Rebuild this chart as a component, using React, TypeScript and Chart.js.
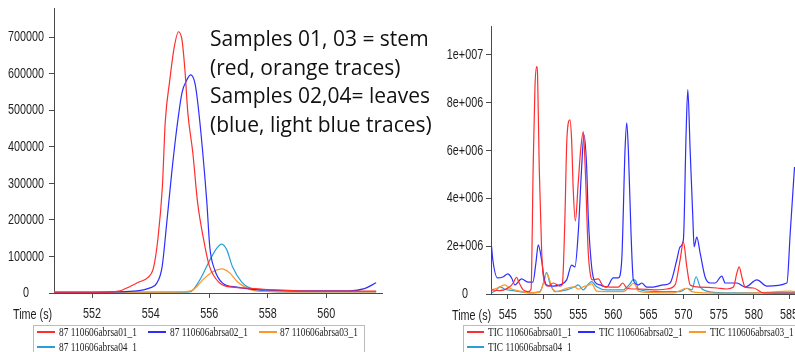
import React, { useEffect, useRef } from "react";
import { Chart, registerables } from "chart.js";

Chart.register(...registerables);

// ---------- data ----------
const seriesColors = ["rgb(255,45,45)", "rgb(45,45,255)", "rgb(255,150,40)", "rgb(40,160,215)"];
const leftSeriesNames = ["87 110606abrsa01_1", "87 110606abrsa02_1", "87 110606abrsa03_1", "87 110606abrsa04_1"];
const rightSeriesNames = ["TIC 110606abrsa01_1", "TIC 110606abrsa02_1", "TIC 110606abrsa03_1", "TIC 110606abrsa04_1"];
const annotationLines = ["Samples 01, 03 = stem", "(red, orange traces)", "Samples 02,04= leaves", "(blue, light blue traces)"];
const axisTitle = "Time (s)";

// left panel (time s, intensity)
const leftT01 = [550.7, 551.5, 552.5, 552.9, 553.3, 553.6, 553.9, 554.1, 554.25, 554.4, 554.5, 554.65, 554.8, 554.95, 555.07, 555.17, 555.27, 555.44, 555.6, 555.8, 556.0, 556.35, 556.8, 557.4, 558.0, 559.0, 560.0, 561.0, 561.7];
const leftV01 = [2000, 2000, 2000, 5000, 18000, 30000, 42000, 70000, 150000, 290000, 470000, 580000, 670000, 715000, 693000, 611000, 493000, 384000, 250000, 150000, 75000, 28000, 16000, 13000, 9000, 6000, 5000, 5000, 5000];
const leftT02 = [550.7, 552.0, 553.4, 553.98, 554.21, 554.39, 554.56, 554.73, 554.9, 555.07, 555.24, 555.37, 555.51, 555.61, 555.78, 555.92, 556.02, 556.19, 556.46, 556.94, 557.5, 558.0, 559.0, 560.0, 560.8, 561.3, 561.7];
const leftV02 = [2000, 2000, 5000, 14000, 27000, 71000, 200000, 337000, 455000, 548000, 584000, 597000, 575000, 520000, 384000, 247000, 126000, 63000, 27000, 16000, 10000, 8000, 6000, 6000, 6000, 12000, 28000];
const leftT03 = [550.7, 552.0, 554.0, 555.0, 555.44, 555.78, 556.12, 556.43, 556.7, 556.97, 557.28, 557.62, 558.0, 559.0, 560.0, 561.0, 561.7];
const leftV03 = [2000, 2000, 2000, 3000, 8000, 36000, 58000, 66000, 55000, 30000, 14000, 5000, 4000, 3000, 3000, 3000, 3000];
const leftT04 = [550.7, 552.0, 554.0, 555.0, 555.34, 555.68, 556.02, 556.26, 556.43, 556.6, 556.8, 557.11, 557.38, 557.72, 558.2, 559.0, 560.0, 561.0, 561.7];
const leftV04 = [2500, 2500, 2500, 2500, 3000, 36000, 90000, 123000, 134000, 118000, 71000, 30000, 14000, 8000, 4000, 3000, 3000, 3000, 3000];

const leftXTicks = [552, 554, 556, 558, 560];
const leftXLabels = ["552", "554", "556", "558", "560"];
const leftYTicks = [0, 100000, 200000, 300000, 400000, 500000, 600000, 700000];
const leftYLabels = ["0", "100000", "200000", "300000", "400000", "500000", "600000", "700000"];

// right panel (time s, intensity in millions)
const rightT01 = [542.68, 543.86, 545.28, 545.75, 546.24, 546.61, 547.18, 547.89, 548.3, 548.6, 548.85, 549.09, 549.23, 549.46, 549.8, 550.13, 550.74, 551.45, 552.41, 552.75, 553.1, 553.4, 553.83, 554.07, 554.3, 554.6, 555.01, 555.35, 555.73, 556.0, 556.44, 556.7, 557.0, 557.86, 558.58, 560.0, 560.71, 561.34, 561.91, 562.85, 563.8, 565.7, 567.61, 568.79, 569.5, 569.97, 570.46, 570.93, 572.35, 574.73, 576.15, 577.09, 577.58, 577.91, 578.29, 578.76, 579.94, 581.37, 585.88];
const rightV01 = [0.17, 0.14, 0.3, 0.46, 0.7, 0.46, 0.17, 0.1, 0.2, 5.3, 8.6, 9.5, 9.1, 5.3, 1.84, 0.59, 0.33, 0.46, 0.33, 0.4, 3.0, 6.5, 7.28, 6.44, 4.35, 3.05, 4.64, 6.0, 6.79, 5.3, 1.7, 0.88, 0.59, 0.63, 0.33, 0.29, 0.29, 0.46, 0.25, 0.21, 0.21, 0.17, 0.21, 0.38, 1.42, 2.18, 1.13, 0.38, 0.29, 0.25, 0.21, 0.29, 0.88, 1.13, 0.71, 0.29, 0.25, 0.05, 0.04];
const rightT02 = [542.68, 542.86, 543.53, 544.29, 545.0, 545.53, 546.0, 546.95, 547.85, 548.56, 548.99, 549.32, 549.8, 550.13, 550.51, 551.45, 552.41, 553.36, 554.07, 554.54, 555.01, 555.5, 555.83, 556.21, 556.44, 556.92, 557.39, 558.1, 559.06, 560.0, 560.71, 561.2, 561.67, 561.91, 562.14, 562.52, 562.85, 563.56, 564.05, 564.76, 565.7, 567.12, 568.08, 569.03, 569.5, 569.97, 570.36, 570.6, 570.93, 571.31, 571.5, 571.88, 572.35, 573.06, 573.77, 574.49, 575.44, 575.91, 576.87, 577.58, 578.76, 580.43, 581.85, 584.7, 585.17, 585.78];
const rightV02 = [1.98, 1.42, 0.67, 0.71, 0.84, 0.67, 0.38, 0.63, 0.5, 0.5, 1.3, 2.05, 1.42, 0.71, 0.38, 0.33, 0.38, 0.59, 1.21, 1.13, 2.55, 5.31, 6.65, 5.31, 3.22, 1.13, 0.5, 0.38, 0.29, 0.67, 0.67, 1.42, 6.03, 7.15, 6.03, 2.55, 0.59, 0.38, 0.46, 0.29, 0.29, 0.38, 0.46, 1.42, 1.97, 2.26, 6.74, 8.54, 6.03, 3.22, 1.97, 2.38, 1.72, 0.71, 0.46, 0.46, 0.75, 0.46, 0.46, 0.46, 0.29, 0.59, 0.33, 0.46, 2.55, 5.31];
const rightT03 = [542.68, 543.39, 543.86, 544.57, 545.28, 546.24, 548.13, 549.56, 550.1, 550.51, 550.98, 551.22, 551.94, 553.36, 554.5, 555.01, 555.7, 556.3, 556.92, 557.63, 559.53, 561.42, 562.3, 562.85, 563.1, 563.56, 564.76, 568.55, 570.46, 571.17, 572.82, 575.67, 580.43, 585.17, 585.88];
const rightV03 = [0.17, 0.24, 0.3, 0.38, 0.24, 0.15, 0.05, 0.08, 0.5, 0.87, 0.55, 0.3, 0.1, 0.24, 0.3, 0.2, 0.3, 0.35, 0.42, 0.12, 0.1, 0.1, 0.3, 0.45, 0.4, 0.12, 0.07, 0.05, 0.24, 0.1, 0.05, 0.03, 0.05, 0.12, 0.1];
const rightT04 = [542.68, 543.3, 543.86, 544.57, 545.5, 546.71, 548.13, 549.56, 550.1, 550.51, 550.98, 551.7, 553.36, 554.5, 555.01, 555.72, 556.4, 556.92, 557.63, 559.06, 561.42, 562.3, 562.85, 563.2, 563.56, 566.18, 569.5, 570.46, 571.17, 571.78, 572.35, 573.3, 575.67, 585.17, 585.88];
const rightV04 = [0.05, 0.15, 0.3, 0.2, 0.15, 0.1, 0.05, 0.1, 0.5, 0.9, 0.45, 0.1, 0.17, 0.3, 0.38, 0.17, 0.4, 0.52, 0.3, 0.17, 0.17, 0.4, 0.6, 0.55, 0.2, 0.1, 0.1, 0.24, 0.17, 0.72, 0.3, 0.12, 0.05, 0.05, 0.05];

const rightXTicks = [545, 550, 555, 560, 565, 570, 575, 580, 585];
const rightXLabels = ["545", "550", "555", "560", "565", "570", "575", "580", "585"];
const rightYTicks = [0, 2e6, 4e6, 6e6, 8e6, 1e7];
const rightYLabels = ["0", "2e+006", "4e+006", "6e+006", "8e+006", "1e+007"];

// ---------- helpers ----------
const TICK_FONT = "'Liberation Sans', Arial, sans-serif";
const TICK_SIZE = 15;
const NARROW = 0.72;
const LEGEND_FONT = "'Liberation Serif', 'Times New Roman', serif";

const pts = (t: number[], v: number[], k = 1) => t.map((x, i) => ({ x, y: v[i] * k }));

function makeDatasets(groups: { x: number; y: number }[][]) {
  return groups.map((data, i) => ({
    data,
    borderColor: seriesColors[i],
    borderWidth: 1.2,
    pointRadius: 0,
    fill: false,
    cubicInterpolationMode: "monotone" as const,
  }));
}

// draws condensed tick labels at the positions of the library's own scale ticks
const narrowTickLabels = {
  id: "narrowTickLabels",
  afterDraw(chart: any, _args: any, opts: any) {
    const ctx = chart.ctx as CanvasRenderingContext2D;
    const xs = chart.scales.x;
    const ys = chart.scales.y;
    ctx.save();
    ctx.fillStyle = "#1e1e1e";
    ctx.font = `${TICK_SIZE}px ${TICK_FONT}`;
    ctx.textAlign = "center";
    ctx.textBaseline = "middle";
    const draw = (s: string, x: number, y: number) => {
      ctx.save();
      ctx.translate(x, y);
      ctx.scale(NARROW, 1);
      ctx.fillText(s, 0, 0);
      ctx.restore();
    };
    ys.ticks.forEach((t: any, i: number) => draw(opts.yLabels[i], opts.yLabelX, ys.getPixelForValue(t.value)));
    xs.ticks.forEach((t: any, i: number) => draw(opts.xLabels[i], xs.getPixelForValue(t.value), opts.xLabelY));
    ctx.restore();
  },
};

function buildConfig(p: {
  datasets: any[];
  xMin: number; xMax: number; xTicks: number[]; xLabels: string[];
  yMax: number; yTicks: number[]; yLabels: string[];
  yWidth: number; xHeight: number; padTop: number; padRight: number;
  yLabelX: number; xLabelY: number;
}) {
  const gridOpts = { display: true, drawOnChartArea: false, drawTicks: true, tickLength: 5, color: "#4a4a4a", tickColor: "#4a4a4a" };
  return {
    type: "line" as const,
    data: { datasets: p.datasets },
    plugins: [narrowTickLabels],
    options: {
      animation: false,
      responsive: false,
      devicePixelRatio: 1,
      events: [],
      layout: { padding: { top: p.padTop, right: p.padRight, left: 0, bottom: 0 } },
      plugins: {
        legend: { display: false },
        tooltip: { enabled: false },
        narrowTickLabels: { xLabels: p.xLabels, yLabels: p.yLabels, yLabelX: p.yLabelX, xLabelY: p.xLabelY },
      },
      scales: {
        x: {
          type: "linear",
          min: p.xMin,
          max: p.xMax,
          afterBuildTicks: (a: any) => { a.ticks = p.xTicks.map((value) => ({ value })); },
          afterFit: (a: any) => { a.height = p.xHeight; a.paddingLeft = 0; a.paddingRight = 0; },
          grid: gridOpts,
          border: { display: true, color: "#4a4a4a", width: 1 },
          ticks: { display: false, autoSkip: false },
        },
        y: {
          type: "linear",
          min: 0,
          max: p.yMax,
          afterBuildTicks: (a: any) => { a.ticks = p.yTicks.map((value) => ({ value })); },
          afterFit: (a: any) => { a.width = p.yWidth; a.paddingTop = 0; a.paddingBottom = 0; },
          grid: gridOpts,
          border: { display: true, color: "#4a4a4a", width: 1 },
          ticks: { display: false, autoSkip: false },
        },
      },
    },
  };
}

function ChartCanvas({ config, left, top, width, height }: { config: any; left: number; top: number; width: number; height: number }) {
  const ref = useRef<HTMLCanvasElement | null>(null);
  useEffect(() => {
    if (!ref.current) return;
    const chart = new Chart(ref.current, config);
    return () => chart.destroy();
  }, []);
  return (
    <canvas
      ref={ref}
      width={width}
      height={height}
      style={{ position: "absolute", left, top, width, height }}
    />
  );
}

function LegendItem({ x, y, lineX, lineW, color, label }: { x: number; y: number; lineX: number; lineW: number; color: string; label: string }) {
  return (
    <>
      <div style={{ position: "absolute", left: lineX, top: y - 1, width: lineW, height: 2, background: color }} />
      <div
        style={{
          position: "absolute",
          left: x,
          top: y - 8,
          height: 16,
          lineHeight: "16px",
          fontFamily: LEGEND_FONT,
          fontSize: 13,
          color: "#222",
          whiteSpace: "nowrap",
          transform: "scaleX(0.72)",
          transformOrigin: "left center",
        }}
      >
        {label}
      </div>
    </>
  );
}

export default function App() {
  const leftConfig = buildConfig({
    datasets: makeDatasets([pts(leftT01, leftV01), pts(leftT02, leftV02), pts(leftT03, leftV03), pts(leftT04, leftV04)]),
    xMin: 550.7, xMax: 561.9, xTicks: leftXTicks, xLabels: leftXLabels,
    yMax: 780000, yTicks: leftYTicks, yLabels: leftYLabels,
    yWidth: 54, xHeight: 37, padTop: 8, padRight: 18,
    yLabelX: 26, xLabelY: 314,
  });
  const rightConfig = buildConfig({
    datasets: makeDatasets([pts(rightT01, rightV01, 1e6), pts(rightT02, rightV02, 1e6), pts(rightT03, rightV03, 1e6), pts(rightT04, rightV04, 1e6)]),
    xMin: 542.6, xMax: 585.85, xTicks: rightXTicks, xLabels: rightXLabels,
    yMax: 11.2e6, yTicks: rightYTicks, yLabels: rightYLabels,
    yWidth: 51, xHeight: 36, padTop: 26, padRight: 0,
    yLabelX: 25, xLabelY: 315,
  });

  const timeStyle: React.CSSProperties = {
    position: "absolute",
    fontFamily: TICK_FONT,
    fontSize: TICK_SIZE,
    color: "#1e1e1e",
    lineHeight: "16px",
    whiteSpace: "nowrap",
    transform: `scaleX(${NARROW})`,
    transformOrigin: "left center",
  };

  const leftLegend = [
    { x: 59, y: 332, lineX: 37, lineW: 18 },
    { x: 170, y: 332, lineX: 148, lineW: 18 },
    { x: 280, y: 332, lineX: 259, lineW: 18 },
    { x: 59, y: 347, lineX: 37, lineW: 18 },
  ];
  const rightLegend = [
    { x: 488, y: 332, lineX: 467, lineW: 17 },
    { x: 599, y: 332, lineX: 578, lineW: 17 },
    { x: 710, y: 332, lineX: 689, lineW: 17 },
    { x: 488, y: 347, lineX: 467, lineW: 17 },
  ];

  return (
    <div style={{ position: "fixed", left: 0, top: 0, width: 795, height: 352, overflow: "hidden", background: "#fff" }}>
      <ChartCanvas config={leftConfig} left={0} top={0} width={400} height={330} />
      <ChartCanvas config={rightConfig} left={440} top={0} width={355} height={330} />

      <div style={{ ...timeStyle, left: 13, top: 306 }}>{axisTitle}</div>
      <div style={{ ...timeStyle, left: 452, top: 307 }}>{axisTitle}</div>

      <div style={{ position: "absolute", left: 33, top: 325, width: 330, height: 60, border: "1px solid #bbb", background: "#fff" }} />
      <div style={{ position: "absolute", left: 463, top: 325, width: 360, height: 60, border: "1px solid #bbb", background: "#fff" }} />
      {leftLegend.map((p, i) => (
        <LegendItem key={"l" + i} {...p} color={seriesColors[i]} label={leftSeriesNames[i]} />
      ))}
      {rightLegend.map((p, i) => (
        <LegendItem key={"r" + i} {...p} color={seriesColors[i]} label={rightSeriesNames[i]} />
      ))}

      <div
        style={{
          position: "absolute",
          left: 210,
          top: 24,
          fontFamily: "'Open Sans', 'Noto Sans', sans-serif",
          fontSize: 21,
          lineHeight: "28.7px",
          color: "#111",
          whiteSpace: "nowrap",
        }}
      >
        {annotationLines.map((s, i) => (
          <div key={i}>{s}</div>
        ))}
      </div>
    </div>
  );
}
